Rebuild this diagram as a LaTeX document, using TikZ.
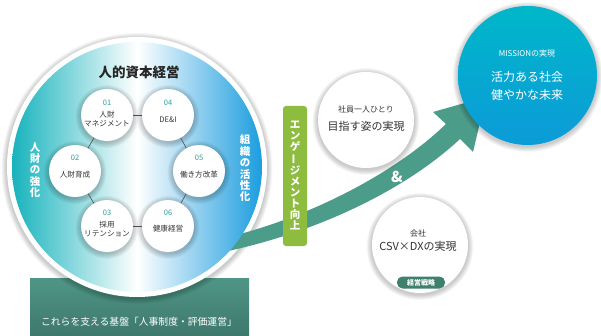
\documentclass[tikz,border=0pt]{standalone}
\usepackage{fontspec}
\setmainfont{Noto Sans CJK JP}
\usepackage{graphicx}
\usetikzlibrary{calc}
\definecolor{tealL}{HTML}{17B3BD}
\definecolor{blueR}{HTML}{1C9DDE}
\definecolor{baseTop}{HTML}{4F9686}
\definecolor{baseBot}{HTML}{3E786C}
\definecolor{arrowC}{HTML}{4B9C89}
\definecolor{engC}{HTML}{8DBC3E}
\definecolor{numC}{HTML}{2E9E9B}
\definecolor{txtC}{HTML}{333333}
\definecolor{missTop}{HTML}{00B7C9}
\definecolor{missBot}{HTML}{0C9BD8}
\definecolor{pillC}{HTML}{3F806D}
\newcommand\softshade[3]{%
  \foreach \k in {1,...,6}{\fill[black,opacity=0.035] (#1,#2+1.5) circle[radius=#3+\k*0.9];}}
\newcommand\vbar{\rotatebox[origin=c]{90}{ー}}
\tikzset{
  smallc/.style={circle,fill=white,minimum size=52pt,inner sep=0pt},
  numlbl/.style={font=\fontsize{7.5}{8}\selectfont,text=numC,inner sep=0pt},
  smalltxt/.style={font=\fontsize{7.6}{9}\selectfont,text=txtC,align=center,inner sep=0pt},
  hexline/.style={draw=black!70,line width=0.6pt},
  vwhite/.style={font=\bfseries\fontsize{10.5}{11.4}\selectfont,text=white,align=center,inner sep=0pt},
  whitec/.style={circle,fill=white,inner sep=0pt},
}
\begin{document}
\begin{tikzpicture}[x=1pt,y=-1pt]
\useasboundingbox (0,0) rectangle (601,336);
\fill[white] (0,0) rectangle (601,336);

% base rectangle
\node[minimum width=219pt,minimum height=57pt,inner sep=0pt,top color=baseTop,bottom color=baseBot] (base) at (139.5,306.5) {};

% big circle shadow + white ring
\softshade{137}{167}{130}
\fill[white] (137,167) circle[radius=130];

% arrow
\fill[arrowC] (228,237) .. controls (300,220) and (390,178) .. (446,124)
  -- (433,112) -- (486,97) -- (473,152) -- (460,139)
  .. controls (402,193) and (312,233) .. (228,251) -- cycle;
\node[font=\bfseries\fontsize{15}{15}\selectfont,text=white,inner sep=0pt] (amp) at (397,177) {\&};

% big circle
\shade[left color=tealL,right color=blueR,middle color=white] (137,167) circle[radius=125];
\node[circle,minimum size=250pt,inner sep=0pt] (main) at (137,167) {};
\node[font=\bfseries\fontsize{13.5}{14}\selectfont,text=black!85,inner sep=0pt] (title) at (139,72) {人的資本経営};

\node[vwhite] (left) at (35,170) {人\\財\\の\\強\\化};
\node[vwhite] (right) at (245,168.5) {組\\織\\の\\活\\性\\化};

% hexagon circles
\foreach \x/\y in {107/115,168/115,75/171,199/171,107/226,168/226}{\softshade{\x}{\y}{26}}
\node[smallc] (n1) at (107,115) {};
\node[smallc] (n4) at (168,115) {};
\node[smallc] (n2) at (75,171) {};
\node[smallc] (n5) at (199,171) {};
\node[smallc] (n3) at (107,226) {};
\node[smallc] (n6) at (168,226) {};
\draw[hexline] (n1) -- (n4);
\draw[hexline] (n1) -- (n2);
\draw[hexline] (n2) -- (n3);
\draw[hexline] (n3) -- (n6);
\draw[hexline] (n4) -- (n5);
\draw[hexline] (n5) -- (n6);

\node[numlbl] (l1n) at ($(n1)+(0,-12.5)$) {01};
\node[smalltxt] (l1t) at ($(n1)+(0,4)$) {人財\\マネジメント};
\node[numlbl] (l4n) at ($(n4)+(0,-12.5)$) {04};
\node[smalltxt] (l4t) at ($(n4)+(0,5)$) {DE\&I};
\node[numlbl] (l2n) at ($(n2)+(0,-13)$) {02};
\node[smalltxt] (l2t) at ($(n2)+(0,4)$) {人財育成};
\node[numlbl] (l5n) at ($(n5)+(0,-13)$) {05};
\node[smalltxt] (l5t) at ($(n5)+(0,4)$) {働き方改革};
\node[numlbl] (l3n) at ($(n3)+(0,-13)$) {03};
\node[smalltxt] (l3t) at ($(n3)+(0,3)$) {採用\\リテンション};
\node[numlbl] (l6n) at ($(n6)+(0,-13)$) {06};
\node[smalltxt] (l6t) at ($(n6)+(0,3)$) {健康経営};

% base text
\node[font=\fontsize{9.8}{10}\selectfont,text=white,inner sep=0pt] (basetxt) at (139,322) {これらを支える基盤「人事制度・評価運営」};

% engagement box
\node[minimum width=24pt,minimum height=140pt,inner sep=0pt,fill=engC,rounded corners=3pt] (eng) at (295,176) {};
\node[vwhite,font=\bfseries\fontsize{10.5}{11.1}\selectfont] (engtxt) at (295,175.5) {エ\\ン\\ゲ\\\vbar\\ジ\\メ\\ン\\ト\\向\\上};

% employee circle
\softshade{366}{120}{48}
\node[whitec,minimum size=96pt] (emp) at (366,120) {};
\node[font=\fontsize{8}{8}\selectfont,text=txtC,inner sep=0pt] (empa) at (366,109) {社員一人ひとり};
\node[font=\fontsize{11}{11}\selectfont,text=txtC,inner sep=0pt] (empb) at (366,126) {目指す姿の実現};

% company circle
\softshade{420}{245}{48}
\node[whitec,minimum size=96pt] (comp) at (420,245) {};
\node[font=\fontsize{8}{8}\selectfont,text=txtC,inner sep=0pt] (compa) at (418,233) {会社};
\node[font=\fontsize{11}{11}\selectfont,text=txtC,inner sep=0pt] (compb) at (418,246.5) {CSV×DXの実現};
\node[fill=pillC,rounded corners=5.5pt,minimum width=48pt,minimum height=12pt,inner sep=0pt,text=white,font=\bfseries\fontsize{7}{7}\selectfont] (pill) at (421,282.5) {経営戦略};

% mission circle
\softshade{527.5}{75.5}{69.5}
\shade[top color=missTop,bottom color=missBot] (527.5,75.5) circle[radius=69.5];
\node[circle,minimum size=139pt,inner sep=0pt] (miss) at (527.5,75.5) {};
\node[font=\fontsize{8}{8}\selectfont,text=white,inner sep=0pt] (missa) at (527,53) {MISSIONの実現};
\node[font=\fontsize{12}{12}\selectfont,text=white,inner sep=0pt] (missb) at (527,77) {活力ある社会};
\node[font=\fontsize{12}{12}\selectfont,text=white,inner sep=0pt] (missc) at (527,95) {健やかな未来};
\end{tikzpicture}
\end{document}
